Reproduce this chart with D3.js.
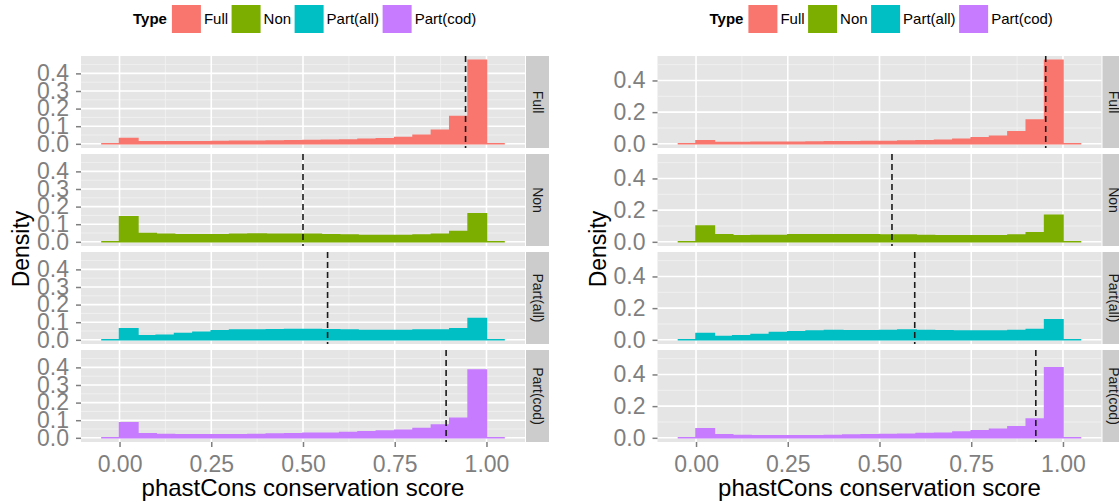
<!DOCTYPE html>
<html>
<head>
<script src="https://d3js.org/d3.v7.min.js"></script>
<style>
  body { margin: 0; background: #fff; font-family: "Liberation Sans", Arial, sans-serif; }
</style>
</head>
<body>
<script>
var width = 1119, height = 502;

var types = ["Full", "Non", "Part(all)", "Part(cod)"];
var colors = ["#F8766D", "#7CAE00", "#00BFC4", "#C77CFF"];

// histogram bins (start of each 0.05 wide bin)
var binStarts = [-0.05, 0.00, 0.05, 0.10, 0.15, 0.20, 0.25, 0.30, 0.35, 0.40, 0.45,
                 0.50, 0.55, 0.60, 0.65, 0.70, 0.75, 0.80, 0.85, 0.90, 0.95, 1.00];
var binWidth = 0.05;

// left chart
var leftFull    = [0, 0.030, 0.011, 0.011, 0.012, 0.012, 0.013, 0.014, 0.015, 0.016, 0.017,
                   0.018, 0.020, 0.022, 0.025, 0.029, 0.036, 0.048, 0.077, 0.155, 0.475, 0];
var leftNon     = [0, 0.142, 0.047, 0.042, 0.040, 0.040, 0.040, 0.042, 0.044, 0.042, 0.042,
                   0.042, 0.040, 0.038, 0.036, 0.036, 0.036, 0.038, 0.042, 0.059, 0.159, 0];
var leftPartAll = [0, 0.062, 0.023, 0.026, 0.036, 0.043, 0.051, 0.055, 0.055, 0.057, 0.058,
                   0.058, 0.057, 0.055, 0.053, 0.053, 0.053, 0.055, 0.055, 0.062, 0.121, 0];
var leftPartCod = [0, 0.085, 0.023, 0.019, 0.017, 0.017, 0.017, 0.017, 0.019, 0.021, 0.023,
                   0.025, 0.026, 0.030, 0.034, 0.038, 0.043, 0.053, 0.072, 0.111, 0.385, 0];
var leftMeans = [0.943, 0.500, 0.567, 0.890];

// right chart
var rightFull    = [0, 0.019, 0.008, 0.008, 0.009, 0.009, 0.010, 0.011, 0.012, 0.013, 0.014,
                    0.015, 0.017, 0.019, 0.023, 0.028, 0.038, 0.048, 0.076, 0.150, 0.528, 0];
var rightNon     = [0, 0.100, 0.044, 0.038, 0.040, 0.040, 0.044, 0.044, 0.044, 0.044, 0.044,
                    0.042, 0.042, 0.040, 0.038, 0.038, 0.038, 0.038, 0.042, 0.057, 0.168, 0];
var rightPartAll = [0, 0.040, 0.021, 0.025, 0.034, 0.046, 0.051, 0.055, 0.059, 0.057, 0.057,
                    0.059, 0.061, 0.059, 0.057, 0.055, 0.055, 0.055, 0.059, 0.065, 0.126, 0];
var rightPartCod = [0, 0.057, 0.019, 0.015, 0.013, 0.013, 0.013, 0.013, 0.015, 0.017, 0.019,
                    0.021, 0.023, 0.027, 0.029, 0.036, 0.044, 0.054, 0.069, 0.119, 0.442, 0];
var rightMeans = [0.953, 0.534, 0.596, 0.926];

var xTicks = [0, 0.25, 0.50, 0.75, 1.00];
var xMinor = [0.125, 0.375, 0.625, 0.875];
var leftYTicks = [0, 0.1, 0.2, 0.3, 0.4];
var leftYMinor = [0.05, 0.15, 0.25, 0.35, 0.45];
var rightYTicks = [0, 0.2, 0.4];
var rightYMinor = [0.1, 0.3, 0.5];

var xTitle = "phastCons conservation score";
var yTitle = "Density";
var legendTitle = "Type";

var svg = d3.select("body").append("svg")
  .attr("width", width)
  .attr("height", height);

// layout
var panelLeft = 81, panelRight = 525;
var panelTop = 56, panelH = 92, panelGap = 6;
var stripW = 23;

function drawChart(ox, series, means, yTicks, yMinor, yFmt) {
  var g = svg.append("g").attr("transform", "translate(" + ox + ",0)");

  var xmin = d3.min(binStarts), xmax = d3.max(binStarts) + binWidth;
  var xpad = (xmax - xmin) * 0.05;
  var x = d3.scaleLinear().domain([xmin - xpad, xmax + xpad]).range([panelLeft, panelRight]);

  var ymax = d3.max(series, function(s) { return d3.max(s); });

  series.forEach(function(vals, i) {
    var top = panelTop + i * (panelH + panelGap);
    var y = d3.scaleLinear().domain([-0.05 * ymax, 1.05 * ymax]).range([top + panelH, top]);
    var p = g.append("g");

    p.append("rect")
      .attr("x", panelLeft).attr("y", top)
      .attr("width", panelRight - panelLeft).attr("height", panelH)
      .attr("fill", "#E5E5E5");

    // minor grid
    p.selectAll(".vminor").data(xMinor).enter().append("line")
      .attr("x1", x).attr("x2", x).attr("y1", top).attr("y2", top + panelH)
      .attr("stroke", "#F2F2F2").attr("stroke-width", 0.8);
    p.selectAll(".hminor").data(yMinor).enter().append("line")
      .attr("x1", panelLeft).attr("x2", panelRight).attr("y1", y).attr("y2", y)
      .attr("stroke", "#F2F2F2").attr("stroke-width", 0.8);
    // major grid
    p.selectAll(".vmajor").data(xTicks).enter().append("line")
      .attr("x1", x).attr("x2", x).attr("y1", top).attr("y2", top + panelH)
      .attr("stroke", "#FFFFFF").attr("stroke-width", 1.6);
    p.selectAll(".hmajor").data(yTicks).enter().append("line")
      .attr("x1", panelLeft).attr("x2", panelRight).attr("y1", y).attr("y2", y)
      .attr("stroke", "#FFFFFF").attr("stroke-width", 1.6);

    // histogram as stepped area (empty bins still show as a thin line)
    var pts = vals.map(function(v, j) { return [binStarts[j], v]; });
    pts.push([binStarts[binStarts.length - 1] + binWidth, vals[vals.length - 1]]);
    var area = d3.area()
      .x(function(d) { return x(d[0]); })
      .y0(y(0))
      .y1(function(d) { return y(d[1]); })
      .curve(d3.curveStepAfter);
    p.append("path")
      .attr("d", area(pts))
      .attr("fill", colors[i])
      .attr("stroke", colors[i])
      .attr("stroke-width", 1.6)
      .attr("stroke-linejoin", "miter");

    // mean line
    p.append("line")
      .attr("x1", x(means[i])).attr("x2", x(means[i]))
      .attr("y1", top).attr("y2", top + panelH)
      .attr("stroke", "#1A1A1A").attr("stroke-width", 1.6)
      .attr("stroke-dasharray", "6,4");

    // y axis
    var ya = p.append("g")
      .attr("transform", "translate(" + panelLeft + ",0)")
      .call(d3.axisLeft(y).tickValues(yTicks).tickSize(5).tickPadding(7).tickFormat(d3.format(yFmt)));
    ya.select(".domain").remove();
    ya.selectAll("line").attr("stroke", "#7F7F7F").attr("stroke-width", 1.5);
    ya.selectAll("text")
      .attr("fill", "#7F7F7F")
      .style("font-size", "23px")
      .style("font-family", "'Liberation Sans', Arial, sans-serif");

    // strip
    p.append("rect")
      .attr("x", panelRight + 1).attr("y", top)
      .attr("width", stripW).attr("height", panelH)
      .attr("fill", "#CCCCCC");
    p.append("text")
      .attr("transform", "translate(" + (panelRight + 1 + stripW / 2) + "," + (top + panelH / 2) + ") rotate(90)")
      .attr("text-anchor", "middle")
      .attr("dy", "0.35em")
      .attr("fill", "#1A1A1A")
      .style("font-size", "14px")
      .text(types[i]);
  });

  // x axis
  var bottom = panelTop + 4 * panelH + 3 * panelGap;
  var xa = g.append("g")
    .attr("transform", "translate(0," + bottom + ")")
    .call(d3.axisBottom(x).tickValues(xTicks).tickSize(5).tickPadding(9).tickFormat(d3.format(".2f")));
  xa.select(".domain").remove();
  xa.selectAll("line").attr("stroke", "#7F7F7F").attr("stroke-width", 1.5);
  xa.selectAll("text")
    .attr("fill", "#7F7F7F")
    .style("font-size", "23px")
    .style("font-family", "'Liberation Sans', Arial, sans-serif");

  // titles
  g.append("text")
    .attr("x", (panelLeft + panelRight) / 2).attr("y", 496)
    .attr("text-anchor", "middle")
    .attr("fill", "#000")
    .style("font-size", "24px")
    .text(xTitle);
  g.append("text")
    .attr("transform", "translate(29," + (panelTop + (bottom - panelTop) / 2) + ") rotate(-90)")
    .attr("text-anchor", "middle")
    .attr("fill", "#000")
    .style("font-size", "23px")
    .text(yTitle);

  // legend
  var lg = g.append("g");
  var lt = lg.append("text")
    .attr("x", 133).attr("y", 24)
    .style("font-size", "15px").style("font-weight", "bold")
    .text(legendTitle);
  var cx = 133 + lt.node().getComputedTextLength() + 5;
  types.forEach(function(t, i) {
    lg.append("rect")
      .attr("x", cx).attr("y", 5).attr("width", 29).attr("height", 28)
      .attr("fill", colors[i]);
    var lab = lg.append("text")
      .attr("x", cx + 32).attr("y", 24)
      .style("font-size", "15px")
      .text(t);
    cx += 32 + lab.node().getComputedTextLength() + 3.5;
  });
}

drawChart(0, [leftFull, leftNon, leftPartAll, leftPartCod], leftMeans, leftYTicks, leftYMinor, ".1f");
drawChart(576.5, [rightFull, rightNon, rightPartAll, rightPartCod], rightMeans, rightYTicks, rightYMinor, ".1f");
</script>
</body>
</html>
